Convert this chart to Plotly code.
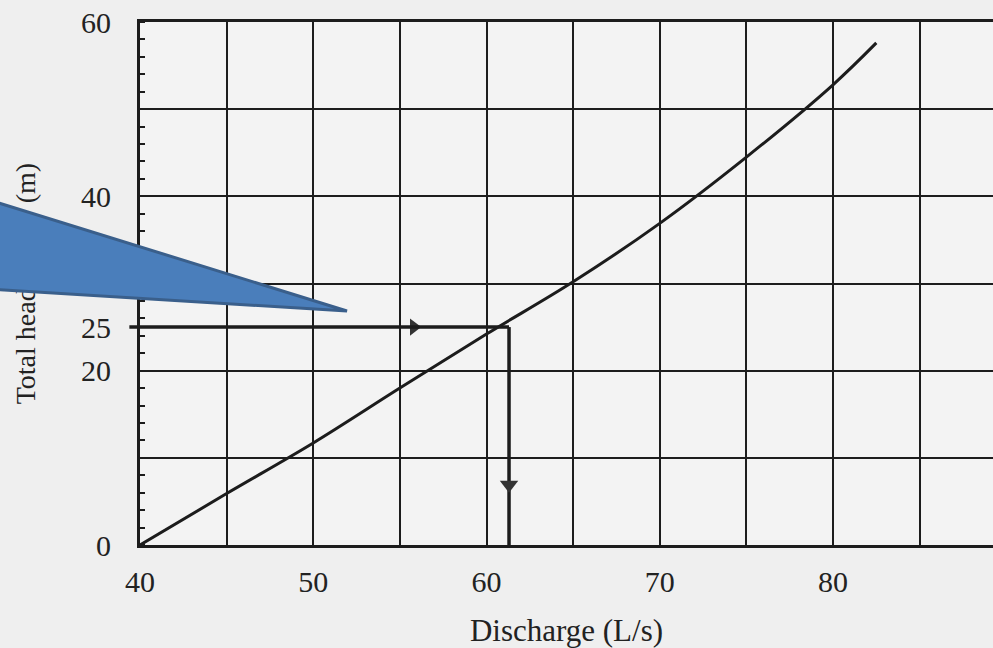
import plotly.graph_objects as go

# ---------------- data ----------------
discharge = [40, 45, 50, 55, 60, 65, 70, 75, 80, 82.5]                  # L/s
total_head = [0, 5.9, 11.7, 18.0, 24.2, 30.2, 36.9, 44.5, 52.8, 57.6]   # m

x_tick_vals = [40, 50, 60, 70, 80]
x_tick_text = ["40", "50", "60", "70", "80"]
y_tick_vals = [0, 20, 25, 40, 60]
y_tick_text = ["0", "20", "25", "40", "60"]
y_grid_vals = [0, 10, 20, 30, 40, 50, 60]

design_head = 25.0        # m  (horizontal reading line)
design_discharge = 61.3   # L/s (vertical reading line)
h_line_start = 39.3       # line starts just left of the axis
h_arrow_x = 55.8          # position of arrowhead on horizontal line
v_arrow_y = 6.9           # position of arrowhead on vertical line

x_title = "Discharge (L/s)"
y_title = "Total head" + "\u00a0" * 12 + "(m)"

# ---------------- layout geometry ----------------
W, H = 993, 648
ML, MR, MT, MB = 140, 0, 22, 103
PW, PH = W - ML - MR, H - MT - MB
X_RANGE = [40, 40 + PW / 17.325]
Y_RANGE = [0, 60]


def px(xp, yp):
    """pixel -> paper coordinates"""
    return (xp - ML) / PW, (H - MB - yp) / PH


FONT = "Liberation Serif, Times New Roman, serif"
INK = "#1c1c1c"

fig = go.Figure()

# pump curve
fig.add_trace(go.Scatter(x=discharge, y=total_head, mode="lines",
                         line=dict(color=INK, width=3, shape="spline", smoothing=1.0),
                         showlegend=False, hoverinfo="skip"))
# vertical reading line
fig.add_trace(go.Scatter(x=[design_discharge, design_discharge], y=[design_head, 0],
                         mode="lines", line=dict(color=INK, width=3.5),
                         showlegend=False, hoverinfo="skip"))
# arrowheads
fig.add_trace(go.Scatter(x=[h_arrow_x], y=[design_head], mode="markers",
                         marker=dict(symbol="triangle-right", size=15, color="#333333"),
                         showlegend=False, hoverinfo="skip", cliponaxis=False))
fig.add_trace(go.Scatter(x=[design_discharge], y=[v_arrow_y], mode="markers",
                         marker=dict(symbol="triangle-down", size=16, color="#333333"),
                         showlegend=False, hoverinfo="skip", cliponaxis=False))
# dummy traces so the overlay axes render
for ax in ["y2", "y3"]:
    fig.add_trace(go.Scatter(x=[X_RANGE[0]], y=[Y_RANGE[0]], yaxis=ax, mode="markers",
                             marker=dict(opacity=0), showlegend=False, hoverinfo="skip"))

# horizontal reading line (extends slightly left of the axis)
fig.add_annotation(x=design_discharge, y=design_head, xref="x", yref="y",
                   ax=h_line_start, ay=design_head, axref="x", ayref="y",
                   showarrow=True, arrowhead=0, arrowwidth=3.5, arrowcolor=INK, text="")

# blue callout pointer (decoration)
p1 = px(-30, 194)
p2 = px(347, 311)
p3 = px(-30, 288)
fig.add_shape(type="path",
              path=f"M {p1[0]},{p1[1]} L {p2[0]},{p2[1]} L {p3[0]},{p3[1]} Z",
              xref="paper", yref="paper", layer="above",
              fillcolor="#4A7EBB", line=dict(color="#3A5F8B", width=3))

grid = dict(showgrid=True, gridcolor=INK, gridwidth=2)

fig.update_layout(
    width=W, height=H,
    margin=dict(l=ML, r=MR, t=MT, b=MB, pad=0),
    paper_bgcolor="#efefef", plot_bgcolor="#f3f3f3",
    font=dict(family=FONT, color="#222222", size=30),
    xaxis=dict(range=X_RANGE, tickvals=x_tick_vals, ticktext=x_tick_text,
               ticks="", ticklabelstandoff=8, **grid,
               minor=dict(dtick=5, tick0=40, showgrid=True, gridcolor=INK, gridwidth=2),
               showline=True, linecolor=INK, linewidth=3, mirror=True, zeroline=False,
               title=dict(text=x_title, font=dict(size=31), standoff=28)),
    yaxis=dict(range=Y_RANGE, tickvals=y_tick_vals, ticktext=y_tick_text,
               ticks="", ticklabelstandoff=20, showgrid=False, zeroline=False,
               minor=dict(dtick=2, ticks="inside", ticklen=5, tickcolor=INK, tickwidth=1.5),
               showline=True, linecolor=INK, linewidth=3),
    yaxis2=dict(range=Y_RANGE, overlaying="y", side="left", tickvals=y_grid_vals,
                showticklabels=False, ticks="", zeroline=False, **grid),
    yaxis3=dict(range=Y_RANGE, overlaying="y", side="left", tickvals=[29.5],
                ticktext=[y_title], tickangle=-90, ticks="", showgrid=False,
                zeroline=False, ticklabelstandoff=98,
                tickfont=dict(size=28, family=FONT, color="#222222")),
)

fig.write_html("out.html", config={"displayModeBar": False},
               post_script="document.body.style.margin='0';document.body.style.overflow='hidden';")
